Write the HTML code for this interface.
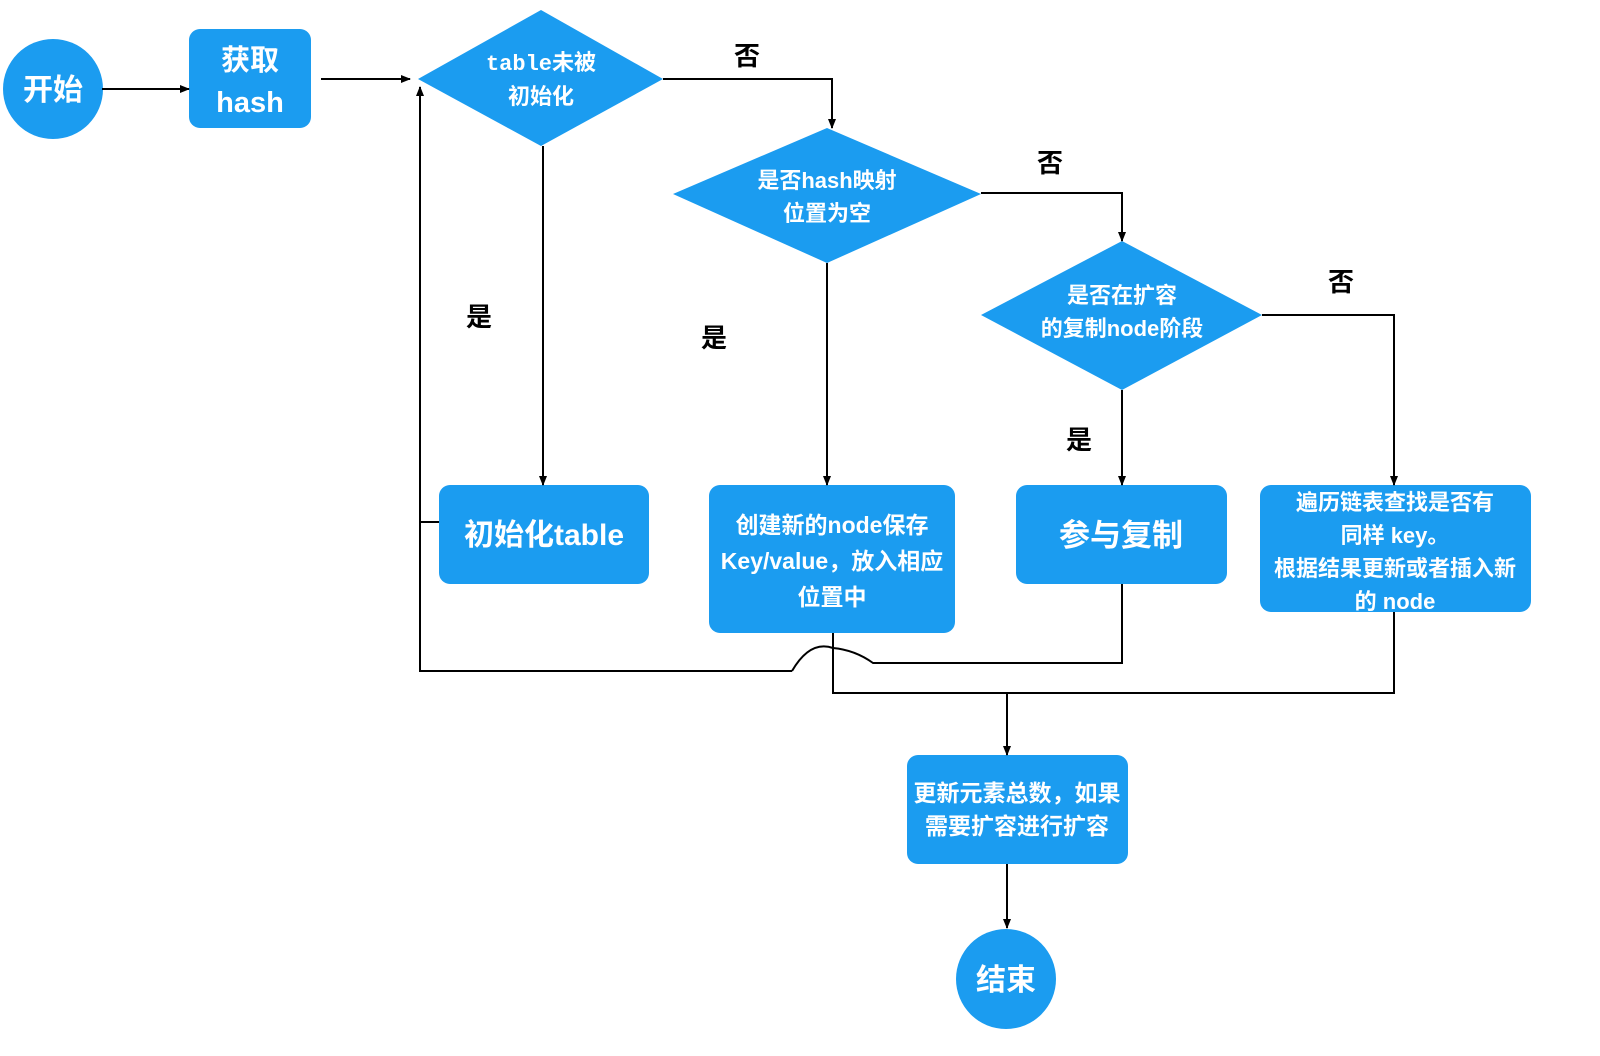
<!DOCTYPE html>
<html><head><meta charset="utf-8"><style>
html,body{margin:0;padding:0;background:#fff;}
svg{display:block;}
text{font-family:"Liberation Sans","Noto Sans CJK SC",sans-serif;font-weight:bold;}
.w{fill:#fff;text-anchor:middle;}
.k{fill:#000;text-anchor:middle;font-size:26px;}
.ln{stroke:#000;stroke-width:2;fill:none;}
</style></head><body>
<svg width="1600" height="1056" viewBox="0 0 1600 1056" xmlns="http://www.w3.org/2000/svg">
<defs><marker id="a" markerWidth="10" markerHeight="10" refX="9" refY="5" orient="auto" markerUnits="userSpaceOnUse"><path d="M0,1 L10,5 L0,9 z" fill="#000"/></marker></defs>
<g fill="#1b9cf0">
<ellipse cx="53" cy="89" rx="50" ry="50"/>
<rect x="189" y="29" width="122" height="99" rx="11"/>
<polygon points="418,79 541,10 663,79 541,146"/>
<polygon points="673,194 827,128 981,194 827,263"/>
<polygon points="981,315 1122,241 1262,315 1122,390"/>
<rect x="439" y="485" width="210" height="99" rx="11"/>
<rect x="709" y="485" width="246" height="148" rx="11"/>
<rect x="1016" y="485" width="211" height="99" rx="11"/>
<rect x="1260" y="485" width="271" height="127" rx="11"/>
<rect x="907" y="755" width="221" height="109" rx="11"/>
<ellipse cx="1006" cy="979" rx="50" ry="50"/>
</g>
<g class="ln">
<line x1="102" y1="89" x2="189" y2="89" marker-end="url(#a)"/>
<line x1="321" y1="79" x2="410" y2="79" marker-end="url(#a)"/>
<polyline points="663,79 832,79 832,128" marker-end="url(#a)"/>
<polyline points="981,193 1122,193 1122,241" marker-end="url(#a)"/>
<polyline points="1262,315 1394,315 1394,485" marker-end="url(#a)"/>
<line x1="543" y1="146" x2="543" y2="485" marker-end="url(#a)"/>
<line x1="827" y1="263" x2="827" y2="485" marker-end="url(#a)"/>
<line x1="1122" y1="390" x2="1122" y2="485" marker-end="url(#a)"/>
<line x1="439" y1="522" x2="420" y2="522"/>
<polyline points="420,522 420,671 792,671"/>
<path d="M792,671 Q810,640 833,648 Q855,650 873,663 L1122,663 L1122,584"/>
<line x1="420" y1="671" x2="420" y2="87" marker-end="url(#a)"/>
<polyline points="833,633 833,693 1394,693 1394,612"/>
<line x1="1007" y1="693" x2="1007" y2="755" marker-end="url(#a)"/>
<line x1="1007" y1="864" x2="1007" y2="928" marker-end="url(#a)"/>
</g>
<text class="w" x="53" y="100" font-size="30">开始</text>
<text class="w" x="250" y="70" font-size="29">获取</text>
<text class="w" x="250" y="112" font-size="29">hash</text>
<text class="w" x="541" y="70" font-size="22" style="font-family:'Liberation Mono','Noto Sans CJK SC',monospace">table未被</text>
<text class="w" x="541" y="104" font-size="22">初始化</text>
<text class="w" x="827" y="188" font-size="22">是否hash映射</text>
<text class="w" x="827" y="221" font-size="22">位置为空</text>
<text class="w" x="1122" y="303" font-size="22">是否在扩容</text>
<text class="w" x="1122" y="336" font-size="22">的复制node阶段</text>
<text class="w" x="544" y="545" font-size="30">初始化table</text>
<text class="w" x="832" y="533" font-size="23" font-weight="normal">创建新的node保存</text>
<text class="w" x="832" y="569" font-size="23">Key/value，放入相应</text>
<text class="w" x="832" y="605" font-size="23">位置中</text>
<text class="w" x="1121" y="546" font-size="31">参与复制</text>
<text class="w" x="1395" y="510" font-size="22">遍历链表查找是否有</text>
<text class="w" x="1395" y="543" font-size="22">同样 key。</text>
<text class="w" x="1395" y="576" font-size="22">根据结果更新或者插入新</text>
<text class="w" x="1395" y="609" font-size="22">的 node</text>
<text class="w" x="1017" y="801" font-size="23">更新元素总数，如果</text>
<text class="w" x="1017" y="834" font-size="23">需要扩容进行扩容</text>
<text class="w" x="1006" y="990" font-size="30">结束</text>
<text class="k" x="747" y="65">否</text>
<text class="k" x="1050" y="172">否</text>
<text class="k" x="1341" y="291">否</text>
<text class="k" x="479" y="326">是</text>
<text class="k" x="714" y="347">是</text>
<text class="k" x="1079" y="449">是</text>
</svg>
</body></html>
